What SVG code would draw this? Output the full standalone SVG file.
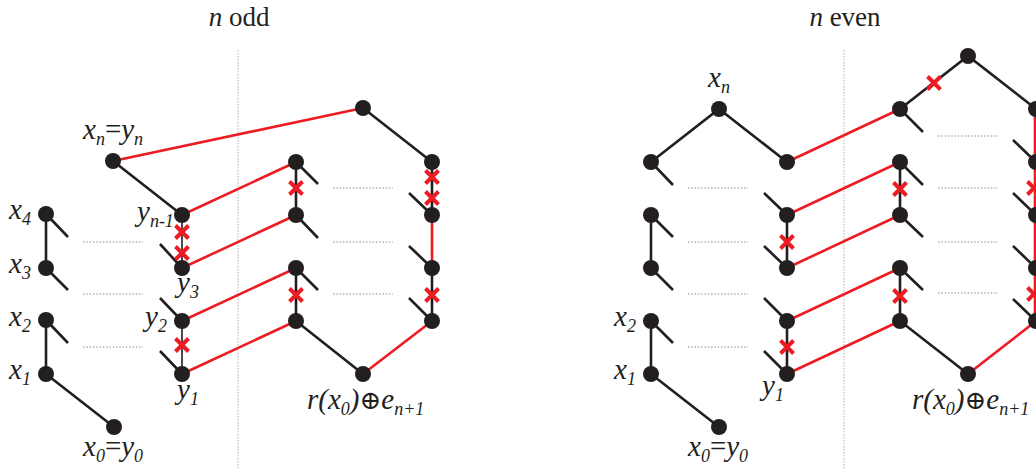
<svg xmlns="http://www.w3.org/2000/svg" width="1036" height="470" viewBox="0 0 1036 470">
<style>
.b{stroke:#231f20;stroke-width:2.6;fill:none}
.t{stroke:#231f20;stroke-width:1.6;fill:none}
.r{stroke:#ed1c24;stroke-width:2.6;fill:none}
.d{stroke:#8a8a8a;stroke-width:1;stroke-dasharray:1.5 1.8;fill:none}
.sep{stroke:#b0b0b0;stroke-width:1;stroke-dasharray:1.5 1.5;fill:none}
</style>
<defs>
<path id="x" d="M-6.5,-6.5 L6.5,6.5 M-6.5,6.5 L6.5,-6.5" stroke="#ed1c24" stroke-width="4" fill="none"/>
<circle id="dot" r="8" fill="#231f20"/>
</defs>
<rect width="1036" height="470" fill="#fff"/>
<text x="239" y="26" text-anchor="middle" font-family="Liberation Serif" font-size="27" fill="#231f20"><tspan font-style="italic">n</tspan> odd</text>
<text x="845" y="26" text-anchor="middle" font-family="Liberation Serif" font-size="27" fill="#231f20"><tspan font-style="italic">n</tspan> even</text>
<line class="sep" x1="238" y1="50" x2="238" y2="470"/>
<line class="sep" x1="844" y1="50" x2="844" y2="470"/>
<g id="connectors">
<path class="b" d="M113,161L182,215 M46,214L46,268 M46,320L46,374 M46,374L114,427 M363,108L432,162 M432,162L432,215 M296,162L296,215 M296,268L296,321 M432,268L432,321 M296,321L363,374"/>
<path class="b" d="M46,214L68,237 M46,268L68,290 M46,320L68,343 M160,244L182,268 M160,298L182,321 M160,351L182,374 M296,162L318,184 M296,215L318,238 M296,268L318,290 M409,193L432,215 M409,246L432,268 M409,298L432,321"/>
<path class="b" d="M651,162L719,109L787,162 M651,215L651,268 M651,321L651,374 M651,374L719,427 M787,215L787,268 M787,321L787,374 M900,109L968,56L1036,109 M900,162L900,215 M900,268L900,321 M900,321L968,374"/>
<path class="b" d="M651,162L673,185 M651,215L673,237 M651,268L673,290 M651,321L673,343 M764,193L787,215 M764,246L787,268 M764,298L787,321 M764,351L787,374 M900,109L923,132 M900,162L923,185 M900,215L923,237 M900,268L923,290 M1013,140L1036,162 M1013,193L1036,215 M1013,246L1036,268 M1013,299L1036,321"/>
<path class="t" d="M182,215L182,268 M182,321L182,374"/>
<path class="r" d="M113,161L363,108 M182,215L296,162 M182,268L296,215 M182,321L296,268 M182,374L296,321 M432,215L432,268 M363,374L432,321"/>
<path class="r" d="M787,162L900,109 M787,215L900,162 M787,268L900,215 M787,321L900,268 M787,374L900,321 M968,374L1036,321 M1035,109L1035,321"/>
<path class="d" d="M83,242H143 M83,294H143 M83,347H143 M333,188H393 M333,242H393 M333,294H393"/>
<path class="d" d="M688,188H748 M688,242H748 M688,294H748 M688,347H748 M938,136H998 M938,188H998 M938,242H998 M938,293H998"/>
<use href="#x" x="182" y="232"/>
<use href="#x" x="182" y="253"/>
<use href="#x" x="182" y="345"/>
<use href="#x" x="296" y="188"/>
<use href="#x" x="296" y="295"/>
<use href="#x" x="432" y="177"/>
<use href="#x" x="432" y="198"/>
<use href="#x" x="432" y="295"/>
<use href="#x" x="787" y="242"/>
<use href="#x" x="787" y="347"/>
<use href="#x" x="934" y="83"/>
<use href="#x" x="900" y="189"/>
<use href="#x" x="900" y="296"/>
<use href="#x" x="1034" y="188"/>
<use href="#x" x="1034" y="294"/>
</g>
<g font-family="Liberation Serif" font-style="italic" font-size="29" fill="#231f20">
<g id="L_xn"><use href="#dot" x="113" y="161"/><text x="83" y="139">x<tspan font-size="18" dy="6">n</tspan><tspan dy="-6" font-style="normal">=</tspan>y<tspan font-size="18" dy="6">n</tspan></text></g>
<g id="L_x4"><use href="#dot" x="46" y="214"/><text x="9" y="219">x<tspan font-size="18" dy="6">4</tspan></text></g>
<g id="L_x3"><use href="#dot" x="46" y="268"/><text x="9" y="273">x<tspan font-size="18" dy="6">3</tspan></text></g>
<g id="L_x2"><use href="#dot" x="46" y="320"/><text x="9" y="326">x<tspan font-size="18" dy="6">2</tspan></text></g>
<g id="L_x1"><use href="#dot" x="46" y="374"/><text x="9" y="379">x<tspan font-size="18" dy="6">1</tspan></text></g>
<g id="L_x0"><use href="#dot" x="114" y="427"/><text x="83" y="456">x<tspan font-size="18" dy="6">0</tspan><tspan dy="-6" font-style="normal">=</tspan>y<tspan font-size="18" dy="6">0</tspan></text></g>
<g id="L_yn1"><use href="#dot" x="182" y="215"/><text x="137" y="221">y<tspan font-size="18" dy="6">n-1</tspan></text></g>
<g id="L_y3"><use href="#dot" x="182" y="268"/><text x="177" y="292">y<tspan font-size="18" dy="6">3</tspan></text></g>
<g id="L_y2"><use href="#dot" x="182" y="321"/><text x="145" y="326">y<tspan font-size="18" dy="6">2</tspan></text></g>
<g id="L_y1"><use href="#dot" x="182" y="374"/><text x="177" y="399">y<tspan font-size="18" dy="6">1</tspan></text></g>
<g id="L_top"><use href="#dot" x="363" y="108"/></g>
<g id="L_a1"><use href="#dot" x="296" y="162"/></g>
<g id="L_a2"><use href="#dot" x="296" y="215"/></g>
<g id="L_a3"><use href="#dot" x="296" y="268"/></g>
<g id="L_a4"><use href="#dot" x="296" y="321"/></g>
<g id="L_b1"><use href="#dot" x="432" y="162"/></g>
<g id="L_b2"><use href="#dot" x="432" y="215"/></g>
<g id="L_b3"><use href="#dot" x="432" y="268"/></g>
<g id="L_b4"><use href="#dot" x="432" y="321"/></g>
<g id="L_bot"><use href="#dot" x="363" y="374"/><text x="307" y="409">r(x<tspan font-size="18" dy="6">0</tspan><tspan dy="-6">)</tspan><tspan font-style="normal" font-family="DejaVu Serif" font-size="26">⊕</tspan>e<tspan font-size="18" dy="6">n+1</tspan></text></g>
<g id="R_xn"><use href="#dot" x="719" y="109"/><text x="708" y="87">x<tspan font-size="18" dy="6">n</tspan></text></g>
<g id="R_c1"><use href="#dot" x="651" y="162"/></g>
<g id="R_c2"><use href="#dot" x="651" y="215"/></g>
<g id="R_c3"><use href="#dot" x="651" y="268"/></g>
<g id="R_x2"><use href="#dot" x="651" y="321"/><text x="614" y="326">x<tspan font-size="18" dy="6">2</tspan></text></g>
<g id="R_x1"><use href="#dot" x="651" y="374"/><text x="614" y="379">x<tspan font-size="18" dy="6">1</tspan></text></g>
<g id="R_x0"><use href="#dot" x="719" y="427"/><text x="688" y="456">x<tspan font-size="18" dy="6">0</tspan><tspan dy="-6" font-style="normal">=</tspan>y<tspan font-size="18" dy="6">0</tspan></text></g>
<g id="R_d1"><use href="#dot" x="787" y="162"/></g>
<g id="R_d2"><use href="#dot" x="787" y="215"/></g>
<g id="R_d3"><use href="#dot" x="787" y="268"/></g>
<g id="R_d4"><use href="#dot" x="787" y="321"/></g>
<g id="R_y1"><use href="#dot" x="787" y="374"/><text x="762" y="395">y<tspan font-size="18" dy="6">1</tspan></text></g>
<g id="R_top"><use href="#dot" x="968" y="56"/></g>
<g id="R_e1"><use href="#dot" x="900" y="109"/></g>
<g id="R_e2"><use href="#dot" x="900" y="162"/></g>
<g id="R_e3"><use href="#dot" x="900" y="215"/></g>
<g id="R_e4"><use href="#dot" x="900" y="268"/></g>
<g id="R_e5"><use href="#dot" x="900" y="321"/></g>
<g id="R_f1"><use href="#dot" x="1036" y="109"/></g>
<g id="R_f2"><use href="#dot" x="1036" y="162"/></g>
<g id="R_f3"><use href="#dot" x="1036" y="215"/></g>
<g id="R_f4"><use href="#dot" x="1036" y="268"/></g>
<g id="R_f5"><use href="#dot" x="1036" y="321"/></g>
<g id="R_bot"><use href="#dot" x="968" y="374"/><text x="912" y="409">r(x<tspan font-size="18" dy="6">0</tspan><tspan dy="-6">)</tspan><tspan font-style="normal" font-family="DejaVu Serif" font-size="26">⊕</tspan>e<tspan font-size="18" dy="6">n+1</tspan></text></g>
</g>
</svg>
